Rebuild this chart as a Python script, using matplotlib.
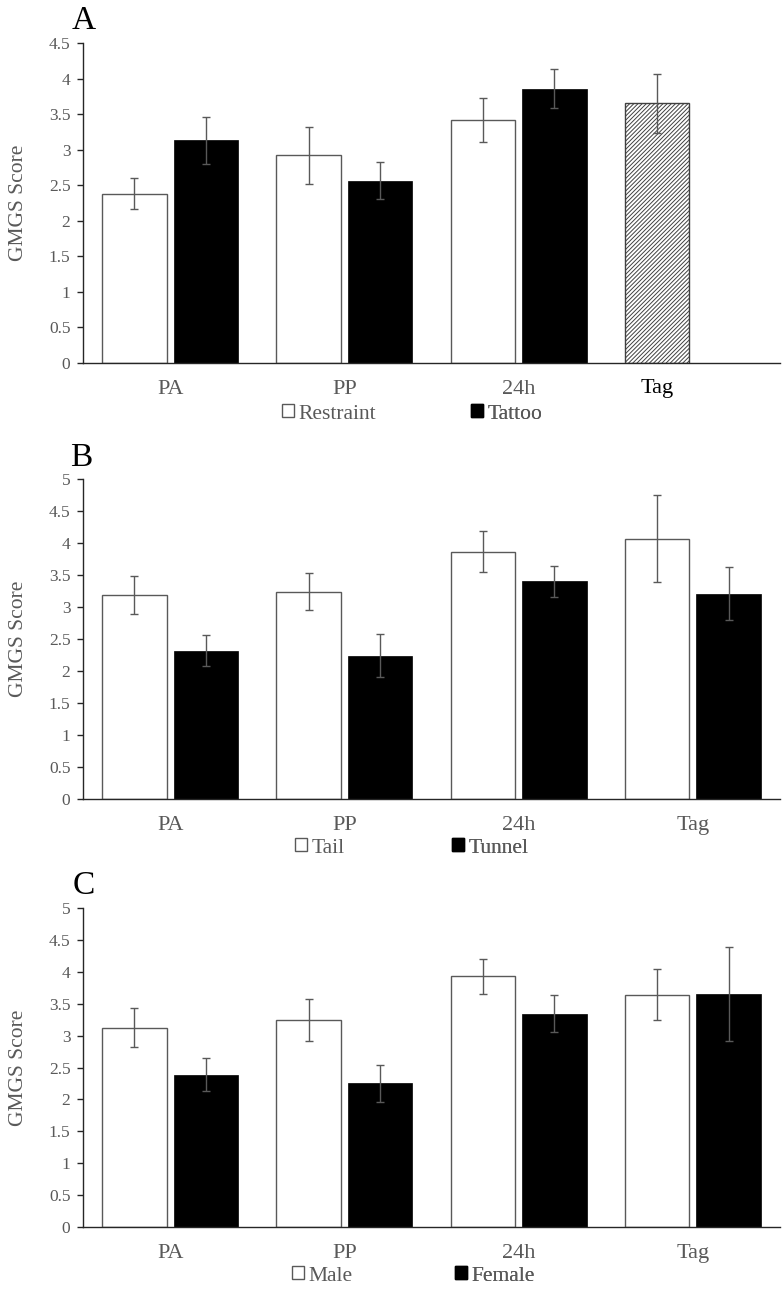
import matplotlib
matplotlib.use("Agg")
import matplotlib.pyplot as plt
import numpy as np
from matplotlib.patches import Patch

plt.rcParams['font.family'] = ['Liberation Serif', 'DejaVu Serif']
plt.rcParams['hatch.color'] = '#404040'
plt.rcParams['hatch.linewidth'] = 0.7

categories = ['PA', 'PP', '24h', 'Tag']

# Panel A
a_labels = ['Restraint', 'Tattoo']
a_restraint = [2.38, 2.92, 3.42]
a_restraint_err = [0.215, 0.40, 0.31]
a_tattoo = [3.13, 2.56, 3.86]
a_tattoo_err = [0.335, 0.26, 0.27]
a_tag = [3.65]
a_tag_err = [0.41]

# Panel B
b_labels = ['Tail', 'Tunnel']
b_tail = [3.19, 3.24, 3.86, 4.07]
b_tail_err = [0.30, 0.29, 0.32, 0.68]
b_tunnel = [2.32, 2.24, 3.40, 3.21]
b_tunnel_err = [0.24, 0.34, 0.245, 0.42]

# Panel C
c_labels = ['Male', 'Female']
c_male = [3.12, 3.24, 3.93, 3.64]
c_male_err = [0.305, 0.33, 0.275, 0.40]
c_female = [2.39, 2.25, 3.34, 3.65]
c_female_err = [0.26, 0.295, 0.29, 0.74]

W, H = 784, 1293
fig = plt.figure(figsize=(W / 100, H / 100), dpi=100)

GRAY = '#595959'
EDGE = '#595959'
bw = 0.37
off = 0.205

def fx(px):
    return px / W

def fy(py):
    return 1 - py / H

def make_axes(top_px, bottom_px):
    left, right = 83, 780
    ax = fig.add_axes([fx(left), fy(bottom_px), (right - left) / W, (bottom_px - top_px) / H])
    for s in ['top', 'right']:
        ax.spines[s].set_visible(False)
    for s in ['left', 'bottom']:
        ax.spines[s].set_color('#262626')
        ax.spines[s].set_linewidth(1.0)
    ax.tick_params(axis='y', direction='out', length=4, width=1, color='#262626',
                   labelsize=12.5, labelcolor=GRAY, pad=5)
    ax.tick_params(axis='x', length=0, labelsize=16, labelcolor=GRAY, pad=12)
    ax.set_ylabel('GMGS Score', fontsize=15.5, color=GRAY, labelpad=15)
    ax.set_xlim(-0.5, 3.5)
    return ax

def yfmt(v):
    return '%g' % v

ebkw = dict(ecolor=GRAY, elinewidth=1.0, capsize=3, capthick=1.0)

def add_legends(ax, handles, labels, positions):
    for h, l, (px, py) in zip(handles, labels, positions):
        leg = ax.legend([h], [l], loc='center left', bbox_to_anchor=(fx(px), fy(py)),
                        bbox_transform=fig.transFigure, frameon=False, fontsize=15.5,
                        handlelength=0.55, handleheight=0.55, handletextpad=0.2,
                        borderpad=0, borderaxespad=0, labelcolor=GRAY)
        ax.add_artist(leg)

# ---------- Panel A ----------
axA = make_axes(43, 363)
x3 = np.arange(len(a_restraint))
axA.bar(x3 - off, a_restraint, bw, color='white', edgecolor=EDGE, linewidth=1.0,
        yerr=a_restraint_err, error_kw=ebkw)
axA.bar(x3 + off, a_tattoo, bw, color='black', edgecolor='black', linewidth=0.5,
        yerr=a_tattoo_err, error_kw=ebkw)
xtag = np.array([3]) - off
axA.bar(xtag, a_tag, bw, color='white', edgecolor='#404040', linewidth=1.0,
        hatch='////////', yerr=a_tag_err, error_kw=ebkw)
axA.set_ylim(0, 4.5)
ticksA = np.arange(0, 4.51, 0.5)
axA.set_yticks(ticksA)
axA.set_yticklabels([yfmt(t) for t in ticksA])
axA.set_xticks(range(4))
axA.set_xticklabels(categories[:3] + [''])
axA.text(xtag[0], -0.36, categories[3], ha='center', va='center', fontsize=16,
         color='black', transform=axA.transData)
add_legends(axA, [Patch(facecolor='white', edgecolor=EDGE), Patch(facecolor='black', edgecolor='black')],
            a_labels, [(282, 414), (471, 414)])
fig.text(fx(84), fy(21), 'A', fontsize=24, ha='center', va='center', color='black')

# ---------- Panel B ----------
axB = make_axes(479, 799)
x4 = np.arange(len(categories))
axB.bar(x4 - off, b_tail, bw, color='white', edgecolor=EDGE, linewidth=1.0,
        yerr=b_tail_err, error_kw=ebkw)
axB.bar(x4 + off, b_tunnel, bw, color='black', edgecolor='black', linewidth=0.5,
        yerr=b_tunnel_err, error_kw=ebkw)
axB.set_ylim(0, 5)
ticksB = np.arange(0, 5.01, 0.5)
axB.set_yticks(ticksB)
axB.set_yticklabels([yfmt(t) for t in ticksB])
axB.set_xticks(x4)
axB.set_xticklabels(categories)
add_legends(axB, [Patch(facecolor='white', edgecolor=EDGE), Patch(facecolor='black', edgecolor='black')],
            b_labels, [(295, 848), (452, 848)])
fig.text(fx(81), fy(458), 'B', fontsize=24, ha='center', va='center', color='black')

# ---------- Panel C ----------
axC = make_axes(908, 1227)
axC.bar(x4 - off, c_male, bw, color='white', edgecolor=EDGE, linewidth=1.0,
        yerr=c_male_err, error_kw=ebkw)
axC.bar(x4 + off, c_female, bw, color='black', edgecolor='black', linewidth=0.5,
        yerr=c_female_err, error_kw=ebkw)
axC.set_ylim(0, 5)
axC.set_yticks(ticksB)
axC.set_yticklabels([yfmt(t) for t in ticksB])
axC.set_xticks(x4)
axC.set_xticklabels(categories)
add_legends(axC, [Patch(facecolor='white', edgecolor=EDGE), Patch(facecolor='black', edgecolor='black')],
            c_labels, [(292, 1276), (455, 1276)])
fig.text(fx(84), fy(886), 'C', fontsize=24, ha='center', va='center', color='black')

fig.savefig('out.png', dpi=100)
